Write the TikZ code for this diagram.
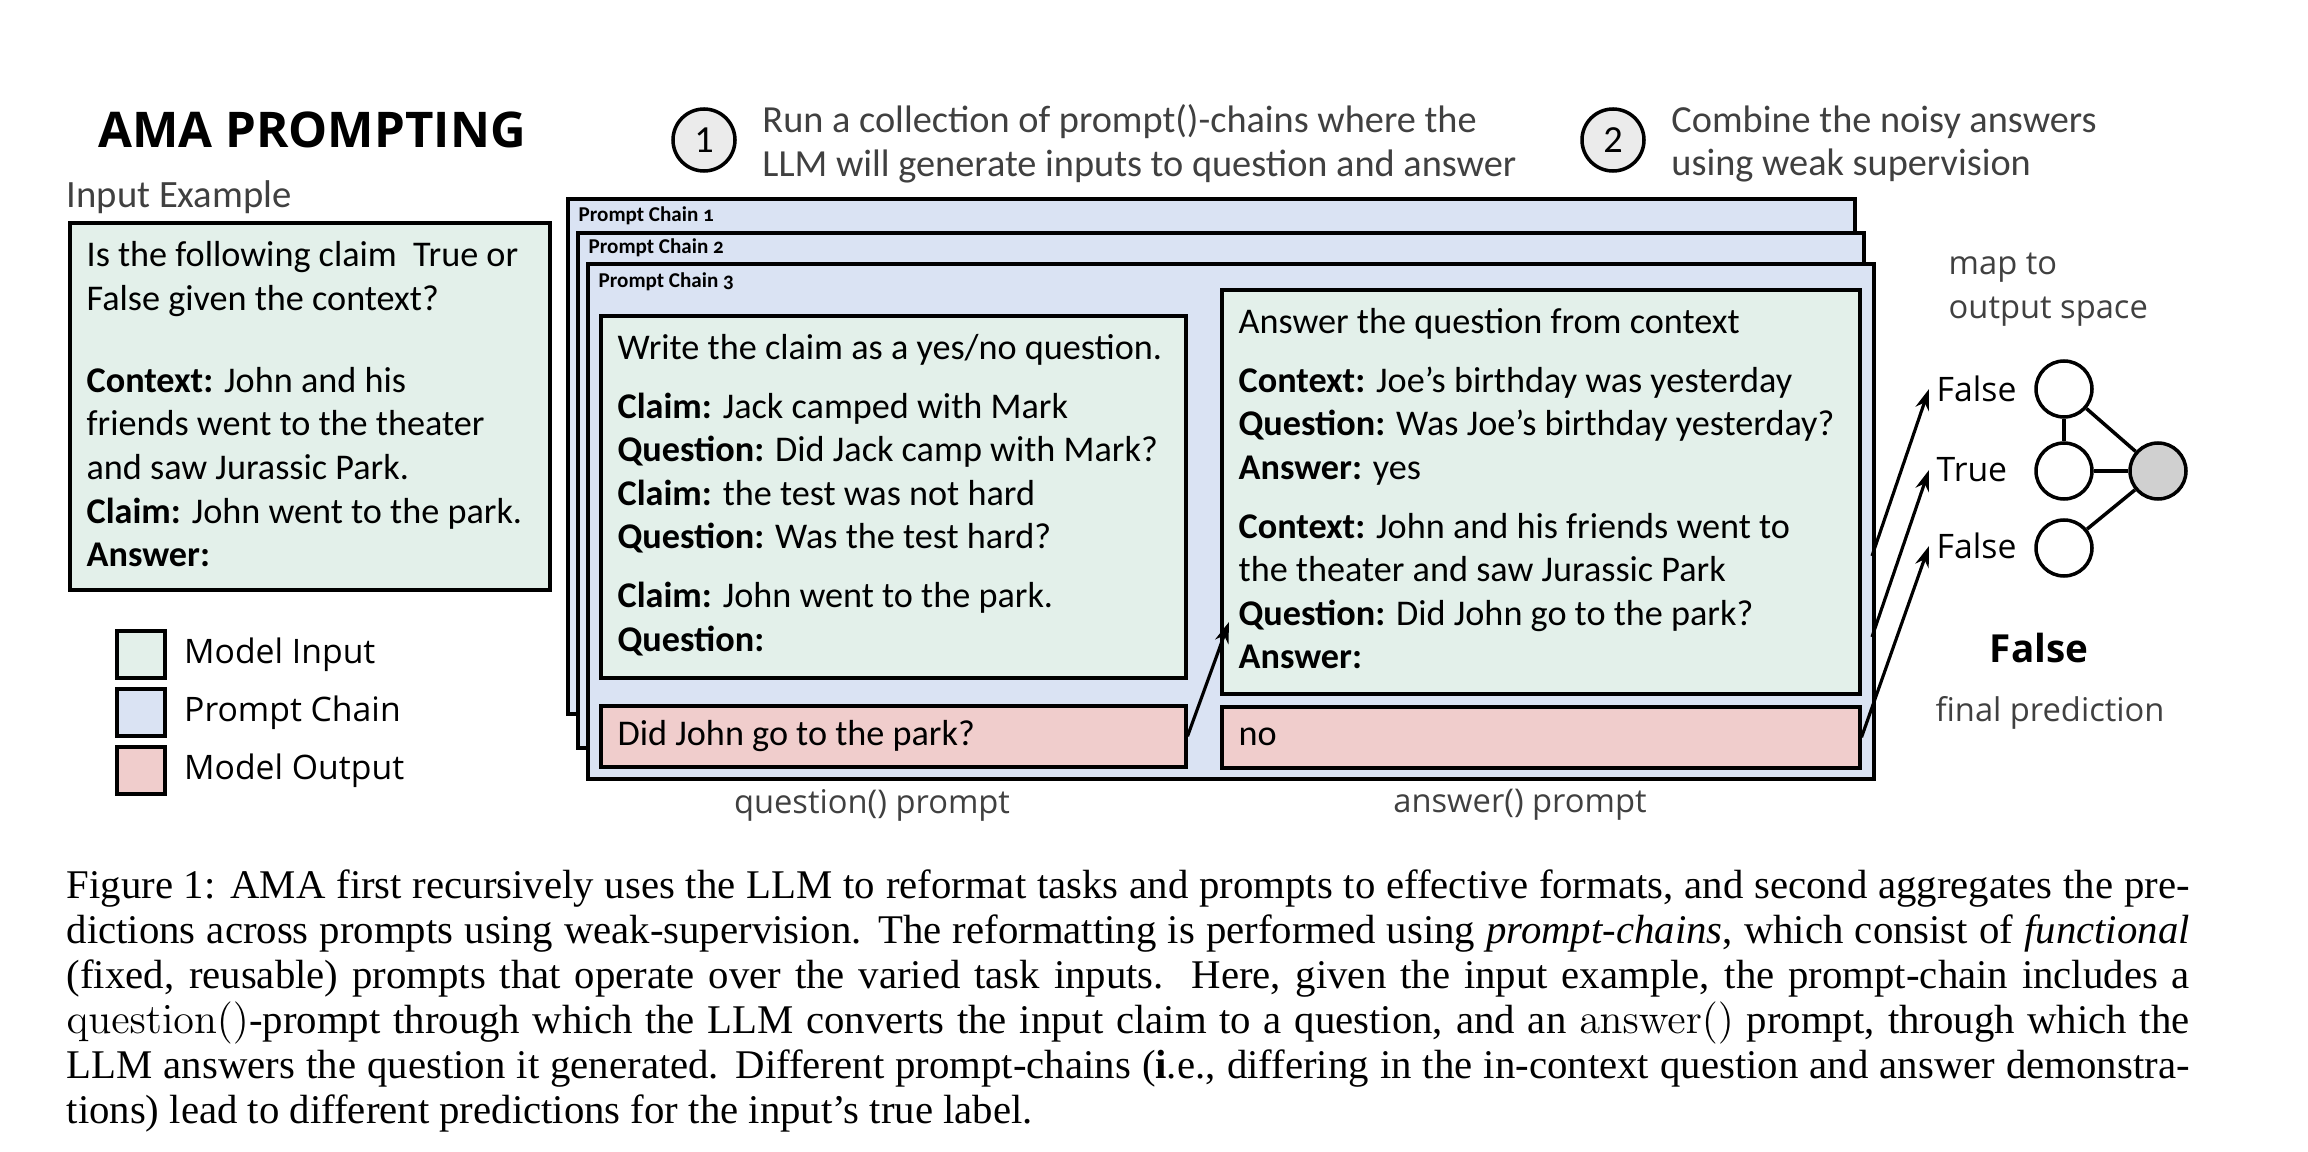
\documentclass[tikz,border=0pt]{standalone}
\usepackage[no-math]{fontspec}
\setmainfont{Carlito}
\newfontfamily\osans{Open Sans}
\newfontfamily\capfont{Liberation Serif}
\newfontfamily\chainfont[Numbers=OldStyle]{Carlito}
\usepackage{xcolor}
\usetikzlibrary{positioning, arrows.meta}

\definecolor{ingreen}{RGB}{227,240,234}
\definecolor{chainblue}{RGB}{218,227,243}
\definecolor{outpink}{RGB}{240,205,204}
\definecolor{txtgray}{RGB}{64,64,64}
\definecolor{stepgray}{RGB}{235,235,235}
\definecolor{agggray}{RGB}{208,208,208}

\newcommand{\bodyfont}{\fontsize{10.3}{12.4}\selectfont}
\newcommand{\stepfont}{\fontsize{10.9}{12.5}\selectfont}

\begin{document}
\begin{tikzpicture}[
    every node/.style={inner sep=0pt},
    box/.style={draw, line width=1pt, anchor=north west},
    model/.style={box, fill=ingreen},
    chain/.style={box, line width=1.1pt, fill=chainblue},
    modelout/.style={box, fill=outpink},
    boxtext/.style={anchor=north west, align=left, inner xsep=5.1pt, inner ysep=5.6pt, font=\bodyfont},
    chainlabel/.style={anchor=west, font=\chainfont\bfseries\fontsize{6}{7}\selectfont},
    stepnum/.style={circle, draw, line width=1pt, fill=stepgray, minimum size=0.62cm, font=\stepfont},
    steptext/.style={align=left, text=txtgray, font=\stepfont},
    note/.style={text=txtgray, align=left, font=\osans\fontsize{9.3}{12.5}\selectfont},
    legendtext/.style={anchor=west, font=\osans\fontsize{9.6}{11}\selectfont},
    vote/.style={circle, draw, line width=1pt, fill=white, minimum size=0.56cm},
    arr/.style={-{Stealth[length=6pt,width=4pt]}, line width=0.9pt}
]
\useasboundingbox (0,0) rectangle (23.08,-11.52);

% title and input example
\node[font=\osans\bfseries\fontsize{14}{16}\selectfont] (title) at (3.12,-1.30) {AMA PROMPTING};
\node[anchor=west, text=txtgray, font=\fontsize{11}{13}\selectfont] (inlabel) at (0.66,-1.97) {Input Example};
\node[model, minimum width=4.80cm, minimum height=3.67cm] (input) at (0.68,-2.21) {};
\node[boxtext] (intext) at (input.north west) {Is the following claim\ \ True or\\
False given the context?\\[11pt]
\textbf{Context:} John and his\\
friends went to the theater\\
and saw Jurassic Park.\\
\textbf{Claim:} John went to the park.\\
\textbf{Answer:}};

% legend
\node[model, minimum width=0.48cm, minimum height=0.47cm] (lg1) at (1.15,-6.29) {};
\node[chain, line width=1pt, minimum width=0.48cm, minimum height=0.47cm] (lg2) at (1.15,-6.87) {};
\node[modelout, minimum width=0.48cm, minimum height=0.47cm] (lg3) at (1.15,-7.45) {};
\node[legendtext, right=0.17cm of lg1] (lg1text) {Model Input};
\node[legendtext, right=0.17cm of lg2] (lg2text) {Prompt Chain};
\node[legendtext, right=0.17cm of lg3] (lg3text) {Model Output};

% the two steps
\node[stepnum] (s1) at (7.04,-1.40) {1};
\node[steptext, right=0.25cm of s1, yshift=-0.04cm] (s1text) {Run a collection of prompt()-chains where the\\LLM will generate inputs to question and answer};
\node[stepnum] (s2) at (16.13,-1.40) {2};
\node[steptext, right=0.25cm of s2, yshift=-0.04cm] (s2text) {Combine the noisy answers\\using weak supervision};

% stacked prompt chains
\node[chain, minimum width=12.87cm, minimum height=5.15cm] (pc1) at (5.66,-1.97) {};
\node[chainlabel] (pc1label) at (5.78,-2.16) {Prompt Chain 1};
\node[chain, minimum width=12.86cm, minimum height=5.15cm] (pc2) at (5.76,-2.31) {};
\node[chainlabel] (pc2label) at (5.88,-2.48) {Prompt Chain 2};
\node[chain, minimum width=12.86cm, minimum height=5.15cm] (pc3) at (5.86,-2.62) {};
\node[chainlabel] (pc3label) at (5.98,-2.82) {Prompt Chain 3};

% question() prompt
\node[model, minimum width=5.85cm, minimum height=3.62cm] (qbox) at (5.99,-3.14) {};
\node[boxtext] (qtext) at (qbox.north west) {Write the claim as a yes/no question.\\[4.3pt]
\textbf{Claim:} Jack camped with Mark\\
\textbf{Question:} Did Jack camp with Mark?\\
\textbf{Claim:} the test was not hard\\
\textbf{Question:} Was the test hard?\\[4.3pt]
\textbf{Claim:} John went to the park.\\
\textbf{Question:}};
\node[modelout, minimum width=5.85cm, minimum height=0.61cm] (qout) at (5.99,-7.04) {};
\node[anchor=west, inner xsep=5.1pt, font=\bodyfont] (qouttext) at (qout.west) {Did John go to the park?};

% answer() prompt
\node[model, minimum width=6.38cm, minimum height=4.04cm] (abox) at (12.20,-2.88) {};
\node[boxtext] (atext) at (abox.north west) {Answer the question from context\\[4.3pt]
\textbf{Context:} Joe's birthday was yesterday\\
\textbf{Question:} Was Joe's birthday yesterday?\\
\textbf{Answer:} yes\\[4.3pt]
\textbf{Context:} John and his friends went to\\
the theater and saw Jurassic Park\\
\textbf{Question:} Did John go to the park?\\
\textbf{Answer:}};
\node[modelout, minimum width=6.38cm, minimum height=0.61cm] (aout) at (12.20,-7.05) {};
\node[anchor=west, inner xsep=5.1pt, font=\bodyfont] (aouttext) at (aout.west) {no};

\coordinate (qhead) at (12.29,-6.22);
\draw[arr] (qout.east) -- (qhead);

\node[note] (qlabel) at (8.72,-8.05) {question() prompt};
\node[note] (alabel) at (15.20,-8.05) {answer() prompt};

% weak supervision
\node[note, anchor=west] (maplabel) at (19.48,-2.90) {map to\\output space};
\node[legendtext, inner xsep=2pt] (f1) at (19.29,-3.89) {False};
\node[legendtext, inner xsep=2pt] (t2) at (19.29,-4.70) {True};
\node[legendtext, inner xsep=2pt] (f3) at (19.29,-5.46) {False};
\node[vote] (n1) at (20.64,-3.89) {};
\node[vote] (n2) at (20.64,-4.71) {};
\node[vote] (n3) at (20.64,-5.48) {};
\node[vote, fill=agggray] (nagg) at (21.58,-4.71) {};
\draw[line width=1pt] (n1) -- (n2);
\draw[line width=1pt] (n1) -- (nagg);
\draw[line width=1pt] (n2) -- (nagg);
\draw[line width=1pt] (n3) -- (nagg);

\coordinate (o1) at (18.72,-5.56);
\coordinate (o2) at (18.72,-6.37);
\draw[arr] (o1) -- (f1.west);
\draw[arr] (o2) -- (t2.west);
\draw[arr] (aout.east) -- (f3.west);

\node[font=\osans\bfseries\fontsize{11}{13}\selectfont] (final) at (20.39,-6.48) {False};
\node[note] (finallabel) at (20.50,-7.13) {final prediction};

% caption
\node[anchor=north west, text width=21.23cm, align=justify, font=\capfont\fontsize{11.6}{12.8}\selectfont] (caption) at (0.66,-8.69) {Figure 1: AMA first recursively uses the LLM to reformat tasks and prompts to effective formats, and second aggregates the pre-\linebreak dictions across prompts using weak-supervision. The reformatting is performed using \emph{prompt-chains}, which consist of \emph{functional}\linebreak (fixed, reusable) prompts that operate over the varied task inputs.\ \ Here, given the input example, the prompt-chain includes a\linebreak $\mathrm{question}()$-prompt through which the LLM converts the input claim to a question, and an $\mathrm{answer}()$ prompt, through which the\linebreak LLM answers the question it generated. Different prompt-chains (\textbf{i}.e., differing in the in-context question and answer demonstra-\linebreak tions) lead to different predictions for the input’s true label.};

\end{tikzpicture}
\end{document}
